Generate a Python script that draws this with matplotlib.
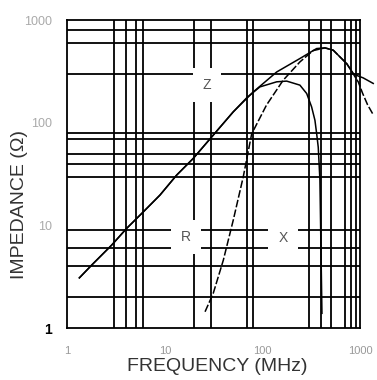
#!/usr/bin/env python3
"""Ferrite bead impedance vs frequency (Z, R, X), log-log datasheet style."""

import matplotlib
matplotlib.use("Agg")
import matplotlib.pyplot as plt

plt.rcParams['font.family'] = ['Liberation Sans', 'DejaVu Sans']

# Z (total impedance)
z_freq = [1.33, 1.78, 2.85, 4.06, 6.01, 8.9, 13.2, 19.5, 30.2, 50.2, 80.5,
          140, 242, 359, 437, 531, 622, 729, 788, 851, 940, 1078, 1365]
z_ohm = [3.1, 4.13, 6.46, 9.4, 13.6, 19.8, 31, 45, 73, 128, 200,
         313, 423, 529, 537, 510, 439, 378, 338, 303, 288, 274, 242]

# R (resistive part)
r_freq = [25.8, 31.3, 39.7, 50.2, 63.6, 77.5, 110, 163, 242, 330, 437,
          531, 622, 729, 788, 851, 960, 1060, 1195, 1365]
r_ohm = [1.45, 2.19, 4.6, 11.3, 29.9, 78, 149, 260, 392, 505, 537,
         510, 439, 378, 338, 300, 250, 195, 150, 120]

# X (reactive part)
x_freq = [1.33, 1.78, 2.85, 4.06, 6.01, 8.9, 13.2, 19.5, 30.2, 50.2, 70,
          94.2, 140, 177, 242, 284, 319, 345, 359, 373, 388, 407]
x_ohm = [3.1, 4.13, 6.46, 9.4, 13.6, 19.8, 31, 45, 73, 128, 178,
         224, 251, 255, 233, 193, 143, 106, 79, 58, 28, 1.4]

# chart grid as printed on the sheet
grid_freq = [3, 4, 5, 6, 20, 30, 70, 80, 300, 400, 500, 700, 800, 900]
grid_ohm = [2, 4, 6, 9, 30, 40, 50, 70, 80, 300, 600, 800]

freq_ticks = [1, 10, 100, 1000]
freq_labels = ['1', '10', '100', '1000']
ohm_ticks = [1, 10, 100, 1000]
ohm_labels = ['1', '10', '100', '1000']

fig = plt.figure(figsize=(3.77, 3.80), dpi=100)
ax = fig.add_axes([0.1785, 0.136, 0.7765, 0.811])

ax.set_xscale('log')
ax.set_yscale('log')
ax.set_xlim(1, 1000)
ax.set_ylim(1, 1000)

ax.set_xticks(freq_ticks)
ax.set_xticklabels(freq_labels)
ax.set_yticks(ohm_ticks)
ax.set_yticklabels(ohm_labels)
ax.set_xticks(grid_freq, minor=True)
ax.set_yticks(grid_ohm, minor=True)
ax.tick_params(which='both', length=0)
ax.tick_params(axis='x', which='major', pad=13, labelsize=8, labelcolor='#999999')
ax.tick_params(axis='y', which='major', pad=11, labelsize=9, labelcolor='#aaaaaa')
ax.xaxis.set_minor_formatter(plt.NullFormatter())
ax.yaxis.set_minor_formatter(plt.NullFormatter())

# bottom "1" on the impedance axis is printed bold and black
ylab = ax.get_yticklabels()[0]
ylab.set_fontweight('bold')
ylab.set_color('black')
ylab.set_fontsize(10)

ax.grid(True, which='minor', color='black', linewidth=1.3)
ax.grid(False, which='major')
for sp in ax.spines.values():
    sp.set_linewidth(1.3)
    sp.set_color('black')

ax.plot(z_freq, z_ohm, color='black', lw=1.1, clip_on=False, zorder=4)
ax.plot(r_freq, r_ohm, color='black', lw=1.1, clip_on=False, zorder=4,
        linestyle=(0, (5, 1.5)))
ax.plot(x_freq, x_ohm, color='black', lw=1.1, clip_on=False, zorder=4)

box = dict(boxstyle='square,pad=0.72', fc='white', ec='none')
ax.text(27, 236, 'Z', fontsize=10, color='#555555', ha='center', va='center',
        bbox=box, zorder=3)
ax.text(16.6, 7.8, 'R', fontsize=10, color='#555555', ha='center', va='center',
        bbox=box, zorder=3)
ax.text(162, 7.6, 'X', fontsize=10, color='#555555', ha='center', va='center',
        bbox=box, zorder=3)

ax.set_xlabel('FREQUENCY (MHz)', fontsize=14, color='#333333', va='center')
ax.xaxis.set_label_coords(0.513, -0.1245)
ax.set_ylabel('IMPEDANCE (Ω)', fontsize=14, color='#333333', va='center')
ax.yaxis.set_label_coords(-0.162, 0.403)

fig.savefig('out.png', dpi=100, facecolor='white')
